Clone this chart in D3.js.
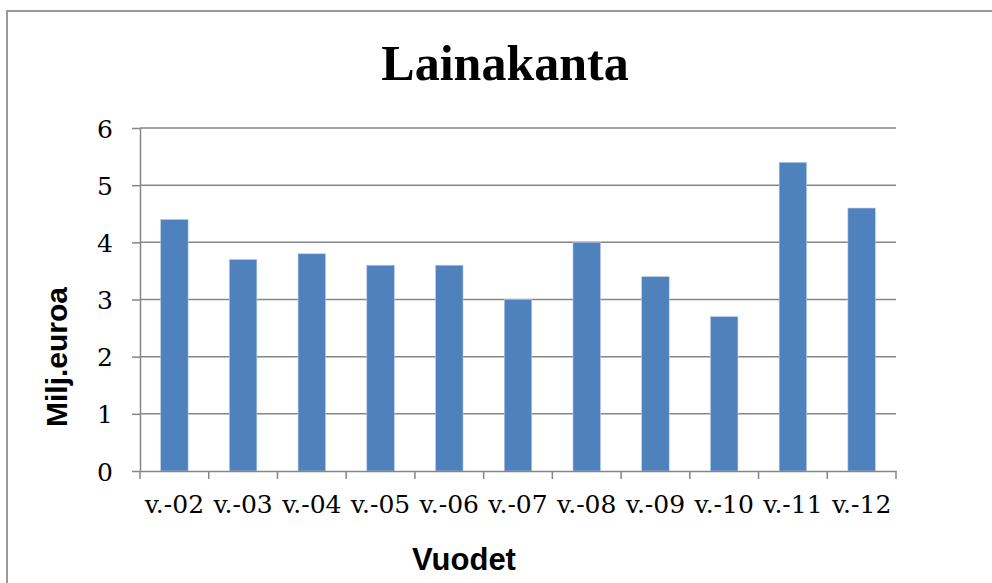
<!DOCTYPE html>
<html>
<head>
<meta charset="utf-8">
<script src="https://cdn.jsdelivr.net/npm/d3@7"></script>
<style>
	body { margin: 0; background: white; }
	svg { display: block; }
</style>
</head>
<body>
<div id="chart"></div>
<script>
var years = ["v.-02", "v.-03", "v.-04", "v.-05", "v.-06", "v.-07", "v.-08", "v.-09", "v.-10", "v.-11", "v.-12"];
var values = [4.4, 3.7, 3.8, 3.6, 3.6, 3.0, 4.0, 3.4, 2.7, 5.4, 4.6];
var yTicks = [0, 1, 2, 3, 4, 5, 6];

var ctx = {
	width: 992,
	height: 583,
	left: 140,
	right: 896,
	top: 128,
	bottom: 471,
};

var svg = d3.select("#chart")
	.append("svg")
	.attr("width", ctx.width)
	.attr("height", ctx.height);

// chart frame (cut off at right and bottom)
svg.append("path")
	.attr("d", "M7,583 L7,11 L992,11")
	.attr("fill", "none")
	.attr("stroke", "#999999")
	.attr("stroke-width", 2);

var xscale = d3.scaleBand()
	.domain(years)
	.range([ctx.left, ctx.right])
	.paddingInner(0.6)
	.paddingOuter(0.3);

var yscale = d3.scaleLinear()
	.domain([0, 6])
	.range([ctx.bottom, ctx.top]);

// gridlines
svg.append("g")
	.selectAll("line")
	.data(yTicks.filter(d => d > 0))
	.join("line")
	.attr("x1", ctx.left)
	.attr("x2", ctx.right)
	.attr("y1", d => yscale(d))
	.attr("y2", d => yscale(d))
	.attr("stroke", "#868686")
	.attr("stroke-width", 1.5);

// bars
svg.append("g")
	.selectAll("rect")
	.data(values)
	.join("rect")
	.attr("x", (d, i) => xscale(years[i]))
	.attr("y", d => yscale(d))
	.attr("width", xscale.bandwidth())
	.attr("height", d => yscale(0) - yscale(d))
	.attr("fill", "#4f81bd")
	.attr("stroke", "#b9cde5")
	.attr("stroke-width", 0.6);

// y axis
var yAxis = svg.append("g")
	.attr("class", "y-axis")
	.attr("transform", "translate(" + ctx.left + ",0)")
	.call(d3.axisLeft(yscale).tickValues(yTicks).tickFormat(d3.format("d"))
		.tickSize(8).tickPadding(19).tickSizeOuter(0));

// x axis: ticks at category boundaries
var xAxis = svg.append("g")
	.attr("class", "x-axis")
	.attr("transform", "translate(0," + ctx.bottom + ")")
	.call(d3.axisBottom(xscale).tickSize(0).tickPadding(42));

var step = (ctx.right - ctx.left) / years.length;
xAxis.selectAll(".bound")
	.data(d3.range(years.length + 1))
	.join("line")
	.attr("class", "bound")
	.attr("x1", i => ctx.left + i * step)
	.attr("x2", i => ctx.left + i * step)
	.attr("y1", 0)
	.attr("y2", 8);

svg.selectAll(".x-axis path, .x-axis line, .y-axis path, .y-axis line")
	.attr("stroke", "#868686")
	.attr("stroke-width", 1.5);

svg.selectAll(".x-axis text, .y-axis text")
	.style("font-family", "'DejaVu Serif', serif")
	.style("font-size", "25px")
	.attr("fill", "black");

svg.selectAll(".y-axis text").attr("dy", "0.36em");
svg.selectAll(".x-axis text").attr("dy", 0);

// title
svg.append("text")
	.text("Lainakanta")
	.attr("x", 505)
	.attr("y", 80)
	.attr("text-anchor", "middle")
	.style("font-family", "'Liberation Serif', serif")
	.style("font-weight", "bold")
	.style("font-size", "50px");

// axis titles
svg.append("text")
	.text("Milj.euroa")
	.attr("transform", "translate(67,357) rotate(-90)")
	.attr("text-anchor", "middle")
	.style("font-family", "'Liberation Sans', Arial, sans-serif")
	.style("font-weight", "bold")
	.style("font-size", "30px");

svg.append("text")
	.text("Vuodet")
	.attr("x", 464)
	.attr("y", 570)
	.attr("text-anchor", "middle")
	.style("font-family", "'Liberation Sans', Arial, sans-serif")
	.style("font-weight", "bold")
	.style("font-size", "31px");
</script>
</body>
</html>
